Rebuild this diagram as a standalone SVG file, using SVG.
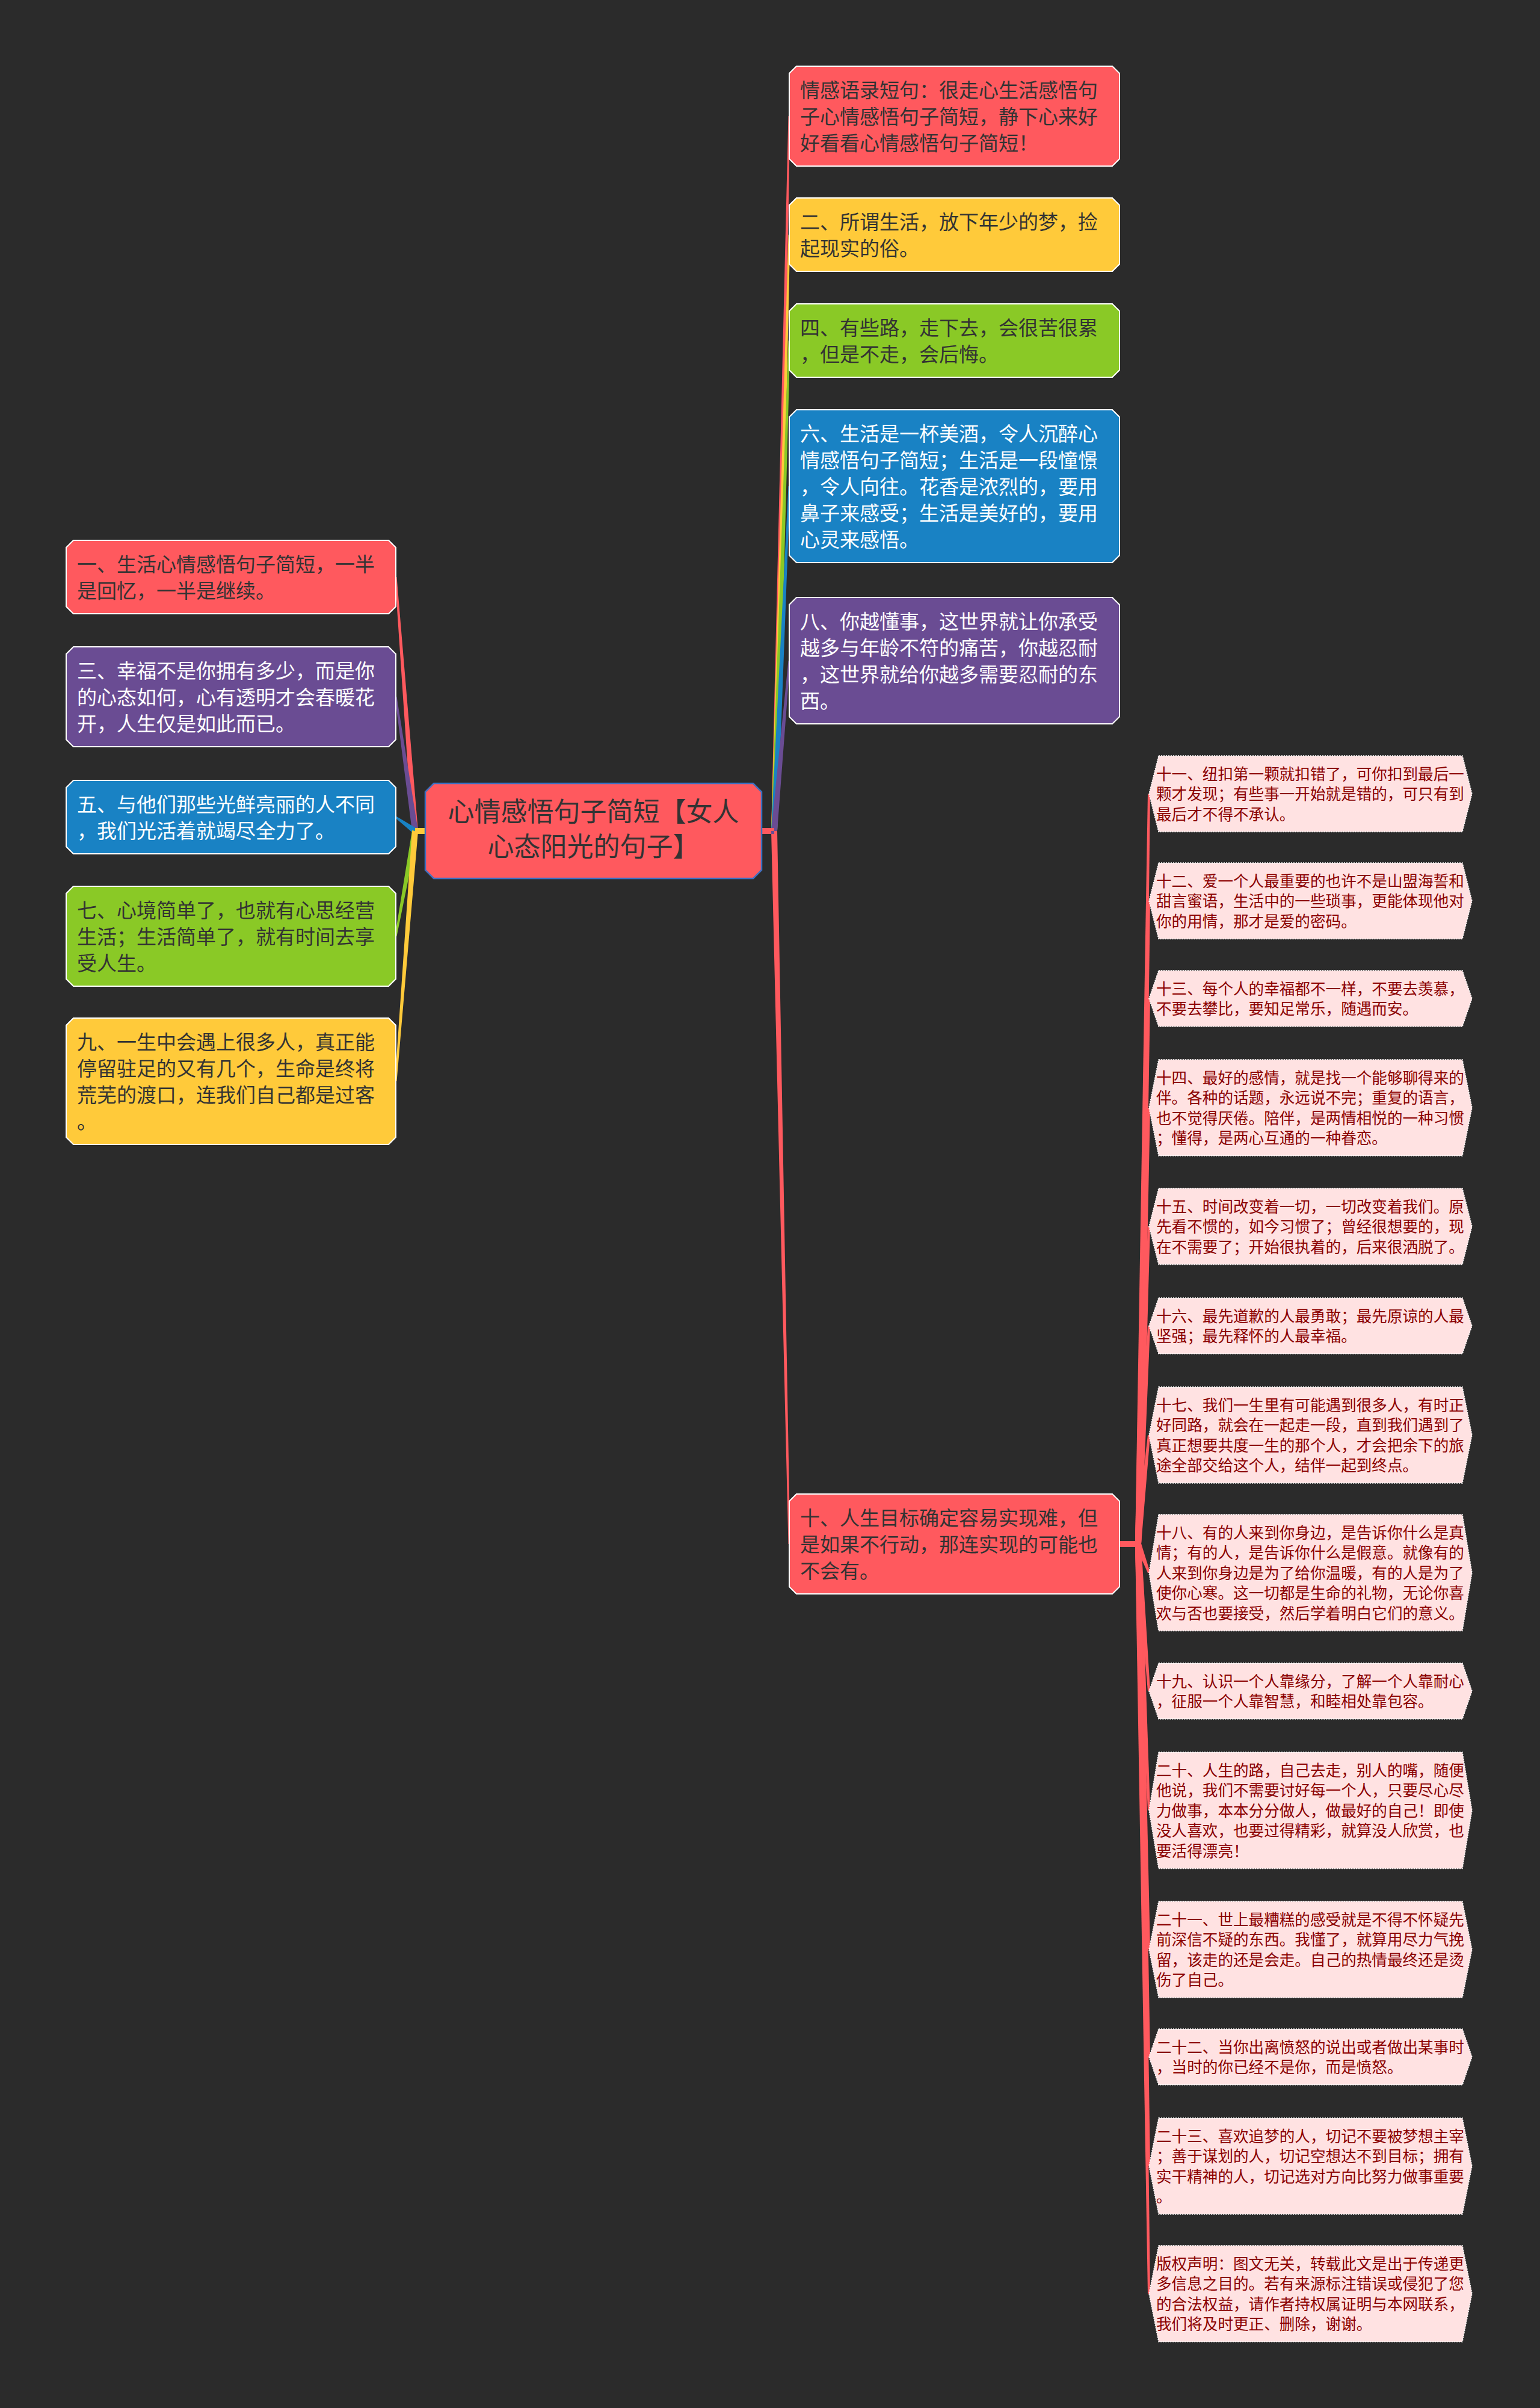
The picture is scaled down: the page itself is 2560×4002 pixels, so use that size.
<svg xmlns="http://www.w3.org/2000/svg" width="2560" height="4002" viewBox="0 0 2560 4002">
<defs>
<style>
.bg{fill:#2B2B2B}
.nd{stroke:#FFFFFF;stroke-width:2}
.red{fill:#FF595E}.yel{fill:#FFCA3A}.grn{fill:#8AC926}.blu{fill:#1982C4}.pur{fill:#6A4C93}
.cRed{fill:#FF595E}.cYel{fill:#FFCA3A}.cGrn{fill:#8AC926}.cBlu{fill:#1982C4}.cPur{fill:#6A4C93}
.t{font-family:"Noto Sans CJK SC","Noto Sans",sans-serif;font-size:33px}
.dk{fill:#333333}.wt{fill:#FFFFFF}
.root{fill:#FF595E;stroke:#3F6FBF;stroke-width:2.5}
.rt{font-family:"Noto Sans CJK SC","Noto Sans",sans-serif;font-size:44px;fill:#333333;text-anchor:middle}
.leaf{fill:#FFE2E2;stroke:#FFFFFF;stroke-width:1.5;stroke-dasharray:2 2}
.lt{font-family:"Noto Sans CJK SC","Noto Sans",sans-serif;font-size:25.6px;fill:#8B0000}
</style>
</defs>
<rect class="bg" x="0" y="0" width="2560" height="4002"/>

<g id="connectors">
<!-- left side -->
<path class="cRed" d="M707,1376 H690 V1386 H707 Z M695,1381 L659.5,959 L656.5,959 L685,1381 Z"/>
<path class="cPur" d="M707,1376 H690 V1386 H707 Z M694.95,1380.29 L659.49,1157.79 L656.51,1158.21 L685.05,1381.71 Z"/>
<path class="cBlu" d="M707,1376 H690 V1386 H707 Z M692.92,1376.94 L658.88,1356.78 L657.12,1359.22 L687.08,1385.06 Z"/>
<path class="cGrn" d="M707,1376 H690 V1386 H707 Z M685.08,1380.1 L656.52,1555.73 L659.48,1556.27 L694.92,1381.9 Z"/>
<path class="cYel" d="M707,1376 H690 V1386 H707 Z M685.01,1380.62 L656.5,1796.88 L659.5,1797.12 L694.99,1381.38 Z"/>
<!-- right side -->
<path class="cRed" d="M1266,1376 H1287 V1386 H1266 Z M1282,1381 L1310.5,193 L1313.5,193 L1292,1381 Z"/>
<path class="cYel" d="M1266,1376 H1287 V1386 H1266 Z M1282,1381 L1310.5,390 L1313.5,390 L1292,1381 Z"/>
<path class="cGrn" d="M1266,1376 H1287 V1386 H1266 Z M1282,1381 L1310.5,566 L1313.5,566 L1292,1381 Z"/>
<path class="cBlu" d="M1266,1376 H1287 V1386 H1266 Z M1282,1381 L1310.5,808 L1313.5,808 L1292,1381 Z"/>
<path class="cPur" d="M1266,1376 H1287 V1386 H1266 Z M1282,1381 L1310.5,1098 L1313.5,1098 L1292,1381 Z"/>
<path class="cRed" d="M1266,1376 H1287 V1386 H1266 Z M1282,1381 L1310.5,2566 L1313.5,2566 L1292,1381 Z"/>
<!-- leaves -->
<path class="cRed" d="M1861,2561 H1893 V2571 H1861 Z"/>
<polygon class="cRed" points="1887,2566 1908,1319.25 1912,1319.25 1897,2566"/>
<polygon class="cRed" points="1887,2566 1908,1497.25 1912,1497.25 1897,2566"/>
<polygon class="cRed" points="1887,2566 1908,1659.5 1912,1659.5 1897,2566"/>
<polygon class="cRed" points="1887,2566 1908,1841 1912,1841 1897,2566"/>
<polygon class="cRed" points="1887,2566 1908,2038.25 1912,2038.25 1897,2566"/>
<polygon class="cRed" points="1887,2566 1908,2203.5 1912,2203.5 1897,2566"/>
<polygon class="cRed" points="1887,2566 1908,2385 1912,2385 1897,2566"/>
<polygon class="cRed" points="1887.32,2567.77 1908.13,2614.46 1911.87,2613.04 1896.68,2564.23"/>
<polygon class="cRed" points="1887,2566 1908,2810.5 1912,2810.5 1897,2566"/>
<polygon class="cRed" points="1887,2566 1908,3008.75 1912,3008.75 1897,2566"/>
<polygon class="cRed" points="1887,2566 1908,3240 1912,3240 1897,2566"/>
<polygon class="cRed" points="1887,2566 1908,3418.5 1912,3418.5 1897,2566"/>
<polygon class="cRed" points="1887,2566 1908,3600 1912,3600 1897,2566"/>
<polygon class="cRed" points="1887,2566 1908,3812 1912,3812 1897,2566"/>
</g>

<g id="root">
<path class="root" d="M721,1302 h531 l14,14 v130 l-14,14 h-531 l-14,-14 v-130 z"/>
<text class="rt"><tspan x="986.5" y="1365">心情感悟句子简短【女人</tspan><tspan x="986.5" y="1423">心态阳光的句子】</tspan></text>
</g>

<g id="n1">
<path class="nd red" d="M122,898 h524 l12,12 v98 l-12,12 h-524 l-12,-12 v-98 z"/>
<text class="t dk"><tspan x="128" y="949.5">一、生活心情感悟句子简短，一半</tspan><tspan x="128" y="993.5">是回忆，一半是继续。</tspan></text>
</g>
<g id="n3">
<path class="nd pur" d="M122,1075 h524 l12,12 v142 l-12,12 h-524 l-12,-12 v-142 z"/>
<text class="t wt"><tspan x="128" y="1126.5">三、幸福不是你拥有多少，而是你</tspan><tspan x="128" y="1170.5">的心态如何，心有透明才会春暖花</tspan><tspan x="128" y="1214.5">开，人生仅是如此而已。</tspan></text>
</g>
<g id="n5">
<path class="nd blu" d="M122,1297 h524 l12,12 v98 l-12,12 h-524 l-12,-12 v-98 z"/>
<text class="t wt"><tspan x="128" y="1348.5">五、与他们那些光鲜亮丽的人不同</tspan><tspan x="128" y="1392.5">，我们光活着就竭尽全力了。</tspan></text>
</g>
<g id="n7">
<path class="nd grn" d="M122,1473 h524 l12,12 v142 l-12,12 h-524 l-12,-12 v-142 z"/>
<text class="t dk"><tspan x="128" y="1524.5">七、心境简单了，也就有心思经营</tspan><tspan x="128" y="1568.5">生活；生活简单了，就有时间去享</tspan><tspan x="128" y="1612.5">受人生。</tspan></text>
</g>
<g id="n9">
<path class="nd yel" d="M122,1692 h524 l12,12 v186 l-12,12 h-524 l-12,-12 v-186 z"/>
<text class="t dk"><tspan x="128" y="1743.5">九、一生中会遇上很多人，真正能</tspan><tspan x="128" y="1787.5">停留驻足的又有几个，生命是终将</tspan><tspan x="128" y="1831.5">荒芜的渡口，连我们自己都是过客</tspan><tspan x="128" y="1875.5">。</tspan></text>
</g>

<g id="nA">
<path class="nd red" d="M1324,110 h525 l12,12 v142 l-12,12 h-525 l-12,-12 v-142 z"/>
<text class="t dk"><tspan x="1330" y="161.5">情感语录短句：很走心生活感悟句</tspan><tspan x="1330" y="205.5">子心情感悟句子简短，静下心来好</tspan><tspan x="1330" y="249.5">好看看心情感悟句子简短！</tspan></text>
</g>
<g id="n2">
<path class="nd yel" d="M1324,329 h525 l12,12 v98 l-12,12 h-525 l-12,-12 v-98 z"/>
<text class="t dk"><tspan x="1330" y="380.5">二、所谓生活，放下年少的梦，捡</tspan><tspan x="1330" y="424.5">起现实的俗。</tspan></text>
</g>
<g id="n4">
<path class="nd grn" d="M1324,505 h525 l12,12 v98 l-12,12 h-525 l-12,-12 v-98 z"/>
<text class="t dk"><tspan x="1330" y="556.5">四、有些路，走下去，会很苦很累</tspan><tspan x="1330" y="600.5">，但是不走，会后悔。</tspan></text>
</g>
<g id="n6">
<path class="nd blu" d="M1324,681 h525 l12,12 v230 l-12,12 h-525 l-12,-12 v-230 z"/>
<text class="t wt"><tspan x="1330" y="732.5">六、生活是一杯美酒，令人沉醉心</tspan><tspan x="1330" y="776.5">情感悟句子简短；生活是一段憧憬</tspan><tspan x="1330" y="820.5">，令人向往。花香是浓烈的，要用</tspan><tspan x="1330" y="864.5">鼻子来感受；生活是美好的，要用</tspan><tspan x="1330" y="908.5">心灵来感悟。</tspan></text>
</g>
<g id="n8">
<path class="nd pur" d="M1324,993 h525 l12,12 v186 l-12,12 h-525 l-12,-12 v-186 z"/>
<text class="t wt"><tspan x="1330" y="1044.5">八、你越懂事，这世界就让你承受</tspan><tspan x="1330" y="1088.5">越多与年龄不符的痛苦，你越忍耐</tspan><tspan x="1330" y="1132.5">，这世界就给你越多需要忍耐的东</tspan><tspan x="1330" y="1176.5">西。</tspan></text>
</g>
<g id="n10">
<path class="nd red" d="M1324,2483 h525 l12,12 v142 l-12,12 h-525 l-12,-12 v-142 z"/>
<text class="t dk"><tspan x="1330" y="2534.5">十、人生目标确定容易实现难，但</tspan><tspan x="1330" y="2578.5">是如果不行动，那连实现的可能也</tspan><tspan x="1330" y="2622.5">不会有。</tspan></text>
</g>

<g id="l11">
<path class="leaf" d="M1926,1256 h505 l16,63.25 l-16,63.25 h-505 l-16,-63.25 z"/>
<text class="lt"><tspan x="1922" y="1295.5">十一、纽扣第一颗就扣错了，可你扣到最后一</tspan><tspan x="1922" y="1329">颗才发现；有些事一开始就是错的，可只有到</tspan><tspan x="1922" y="1362.5">最后才不得不承认。</tspan></text>
</g>
<g id="l12">
<path class="leaf" d="M1926,1434 h505 l16,63.25 l-16,63.25 h-505 l-16,-63.25 z"/>
<text class="lt"><tspan x="1922" y="1473.5">十二、爱一个人最重要的也许不是山盟海誓和</tspan><tspan x="1922" y="1507">甜言蜜语，生活中的一些琐事，更能体现他对</tspan><tspan x="1922" y="1540.5">你的用情，那才是爱的密码。</tspan></text>
</g>
<g id="l13">
<path class="leaf" d="M1926,1613 h505 l16,46.5 l-16,46.5 h-505 l-16,-46.5 z"/>
<text class="lt"><tspan x="1922" y="1652.5">十三、每个人的幸福都不一样，不要去羡慕，</tspan><tspan x="1922" y="1686">不要去攀比，要知足常乐，随遇而安。</tspan></text>
</g>
<g id="l14">
<path class="leaf" d="M1926,1761 h505 l16,80 l-16,80 h-505 l-16,-80 z"/>
<text class="lt"><tspan x="1922" y="1800.5">十四、最好的感情，就是找一个能够聊得来的</tspan><tspan x="1922" y="1834">伴。各种的话题，永远说不完；重复的语言，</tspan><tspan x="1922" y="1867.5">也不觉得厌倦。陪伴，是两情相悦的一种习惯</tspan><tspan x="1922" y="1901">；懂得，是两心互通的一种眷恋。</tspan></text>
</g>
<g id="l15">
<path class="leaf" d="M1926,1975 h505 l16,63.25 l-16,63.25 h-505 l-16,-63.25 z"/>
<text class="lt"><tspan x="1922" y="2014.5">十五、时间改变着一切，一切改变着我们。原</tspan><tspan x="1922" y="2048">先看不惯的，如今习惯了；曾经很想要的，现</tspan><tspan x="1922" y="2081.5">在不需要了；开始很执着的，后来很洒脱了。</tspan></text>
</g>
<g id="l16">
<path class="leaf" d="M1926,2157 h505 l16,46.5 l-16,46.5 h-505 l-16,-46.5 z"/>
<text class="lt"><tspan x="1922" y="2196.5">十六、最先道歉的人最勇敢；最先原谅的人最</tspan><tspan x="1922" y="2230">坚强；最先释怀的人最幸福。</tspan></text>
</g>
<g id="l17">
<path class="leaf" d="M1926,2305 h505 l16,80 l-16,80 h-505 l-16,-80 z"/>
<text class="lt"><tspan x="1922" y="2344.5">十七、我们一生里有可能遇到很多人，有时正</tspan><tspan x="1922" y="2378">好同路，就会在一起走一段，直到我们遇到了</tspan><tspan x="1922" y="2411.5">真正想要共度一生的那个人，才会把余下的旅</tspan><tspan x="1922" y="2445">途全部交给这个人，结伴一起到终点。</tspan></text>
</g>
<g id="l18">
<path class="leaf" d="M1926,2517 h505 l16,96.75 l-16,96.75 h-505 l-16,-96.75 z"/>
<text class="lt"><tspan x="1922" y="2556.5">十八、有的人来到你身边，是告诉你什么是真</tspan><tspan x="1922" y="2590">情；有的人，是告诉你什么是假意。就像有的</tspan><tspan x="1922" y="2623.5">人来到你身边是为了给你温暖，有的人是为了</tspan><tspan x="1922" y="2657">使你心寒。这一切都是生命的礼物，无论你喜</tspan><tspan x="1922" y="2690.5">欢与否也要接受，然后学着明白它们的意义。</tspan></text>
</g>
<g id="l19">
<path class="leaf" d="M1926,2764 h505 l16,46.5 l-16,46.5 h-505 l-16,-46.5 z"/>
<text class="lt"><tspan x="1922" y="2803.5">十九、认识一个人靠缘分，了解一个人靠耐心</tspan><tspan x="1922" y="2837">，征服一个人靠智慧，和睦相处靠包容。</tspan></text>
</g>
<g id="l20">
<path class="leaf" d="M1926,2912 h505 l16,96.75 l-16,96.75 h-505 l-16,-96.75 z"/>
<text class="lt"><tspan x="1922" y="2951.5">二十、人生的路，自己去走，别人的嘴，随便</tspan><tspan x="1922" y="2985">他说，我们不需要讨好每一个人，只要尽心尽</tspan><tspan x="1922" y="3018.5">力做事，本本分分做人，做最好的自己！即使</tspan><tspan x="1922" y="3052">没人喜欢，也要过得精彩，就算没人欣赏，也</tspan><tspan x="1922" y="3085.5">要活得漂亮！</tspan></text>
</g>
<g id="l21">
<path class="leaf" d="M1926,3160 h505 l16,80 l-16,80 h-505 l-16,-80 z"/>
<text class="lt"><tspan x="1922" y="3199.5">二十一、世上最糟糕的感受就是不得不怀疑先</tspan><tspan x="1922" y="3233">前深信不疑的东西。我懂了，就算用尽力气挽</tspan><tspan x="1922" y="3266.5">留，该走的还是会走。自己的热情最终还是烫</tspan><tspan x="1922" y="3300">伤了自己。</tspan></text>
</g>
<g id="l22">
<path class="leaf" d="M1926,3372 h505 l16,46.5 l-16,46.5 h-505 l-16,-46.5 z"/>
<text class="lt"><tspan x="1922" y="3411.5">二十二、当你出离愤怒的说出或者做出某事时</tspan><tspan x="1922" y="3445">，当时的你已经不是你，而是愤怒。</tspan></text>
</g>
<g id="l23">
<path class="leaf" d="M1926,3520 h505 l16,80 l-16,80 h-505 l-16,-80 z"/>
<text class="lt"><tspan x="1922" y="3559.5">二十三、喜欢追梦的人，切记不要被梦想主宰</tspan><tspan x="1922" y="3593">；善于谋划的人，切记空想达不到目标；拥有</tspan><tspan x="1922" y="3626.5">实干精神的人，切记选对方向比努力做事重要</tspan><tspan x="1922" y="3660">。</tspan></text>
</g>
<g id="l24">
<path class="leaf" d="M1926,3732 h505 l16,80 l-16,80 h-505 l-16,-80 z"/>
<text class="lt"><tspan x="1922" y="3771.5">版权声明：图文无关，转载此文是出于传递更</tspan><tspan x="1922" y="3805">多信息之目的。若有来源标注错误或侵犯了您</tspan><tspan x="1922" y="3838.5">的合法权益，请作者持权属证明与本网联系，</tspan><tspan x="1922" y="3872">我们将及时更正、删除，谢谢。</tspan></text>
</g>
</svg>
